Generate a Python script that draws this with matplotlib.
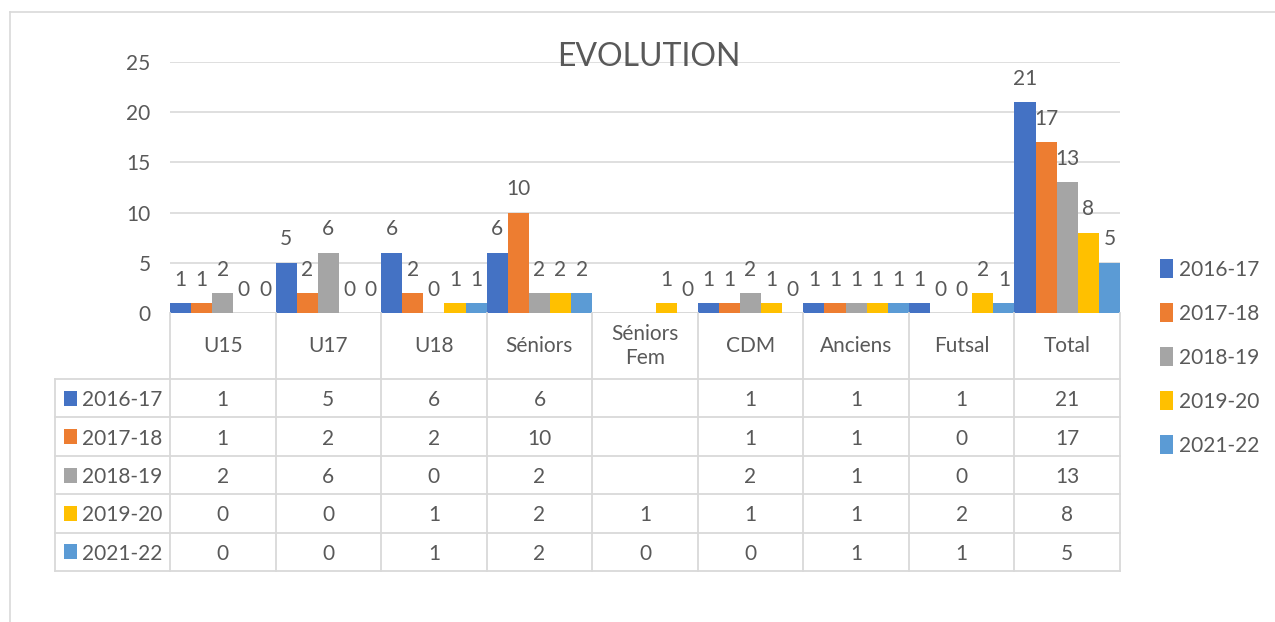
import numpy as np
import matplotlib
matplotlib.use("Agg")
import matplotlib.pyplot as plt
from matplotlib.patches import Rectangle
from matplotlib.lines import Line2D

plt.rcParams['font.family'] = ['Lato', 'DejaVu Sans']

# data
categories = ['U15', 'U17', 'U18', 'Séniors', 'Séniors\nFem', 'CDM', 'Anciens', 'Futsal', 'Total']
seasons = ['2016-17', '2017-18', '2018-19', '2019-20', '2021-22']
v_2016 = [1, 5, 6, 6, None, 1, 1, 1, 21]
v_2017 = [1, 2, 2, 10, None, 1, 1, 0, 17]
v_2018 = [2, 6, 0, 2, None, 2, 1, 0, 13]
v_2019 = [0, 0, 1, 2, 1, 1, 1, 2, 8]
v_2021 = [0, 0, 1, 2, 0, 0, 1, 1, 5]
series = [v_2016, v_2017, v_2018, v_2019, v_2021]
colors = ['#4472C4', '#ED7D31', '#A5A5A5', '#FFC000', '#5B9BD5']

TXT = '#595959'
GRID = '#D9D9D9'
FS = 15
W, H = 1275, 622

fig = plt.figure(figsize=(W / 100, H / 100), dpi=100)

def fx(px):
    return px / W

def fy(py):
    return 1 - py / H

# outer chart border (only top and left visible)
fig.add_artist(Line2D([fx(10), 1], [fy(12), fy(12)], color=GRID, lw=1.2))
fig.add_artist(Line2D([fx(10), fx(10)], [fy(12), 0], color=GRID, lw=1.2))

# plot area
x0, x1, ytop, ybot = 170, 1120, 62, 313
ax = fig.add_axes([fx(x0), fy(ybot), fx(x1 - x0), (ybot - ytop) / H])
n = len(categories)
bw = 0.2
for k, (vals, c) in enumerate(zip(series, colors)):
    xs = np.arange(n) + (k + 0.5) * bw
    hs = [np.nan if v is None else v for v in vals]
    ax.bar(xs, hs, width=bw, color=c, linewidth=0, zorder=3)
    for x, v in zip(xs, vals):
        if v is None:
            continue
        ax.annotate(str(v), (x, v), xytext=(0, 12.5), textcoords='offset points',
                    ha='center', va='baseline', fontsize=FS, color=TXT, zorder=4)

ax.set_xlim(0, n)
ax.set_ylim(0, 25)
ax.set_yticks(range(0, 26, 5))
ax.set_xticks([])
ax.yaxis.grid(True, color=GRID, lw=1.2, zorder=0)
ax.tick_params(axis='y', length=0, pad=14, labelsize=FS, labelcolor=TXT)
for s in ax.spines.values():
    s.set_visible(False)
ax.axhline(0, color=GRID, lw=2, zorder=2)

# title (drawn over the top gridline)
fig.text(fx(649), fy(57), 'EVOLUTION', ha='center', va='center', fontsize=23, color=TXT)

# data table below the plot
tl, tb = 55, 571
lab_w = (x0 - tl) / ((x1 - x0) / n)
tax = fig.add_axes([fx(tl), fy(tb), fx(x1 - tl), (tb - ybot) / H])
tax.set_xlim(-lab_w, n)
tax.set_ylim(tb - ybot, 0)
tax.axis('off')

row_edges = [0, 66, 104.4, 142.8, 181.2, 219.6, 258]
lw_t = 1.3
# horizontal lines
for y in row_edges[1:]:
    tax.plot([-lab_w, n], [y, y], color=GRID, lw=lw_t, clip_on=False)
# vertical lines
for i in range(n + 1):
    tax.plot([i, i], [0, row_edges[-1]], color=GRID, lw=lw_t, clip_on=False)
tax.plot([-lab_w, -lab_w], [row_edges[1], row_edges[-1]], color=GRID, lw=lw_t, clip_on=False)

# header
for i, cat in enumerate(categories):
    tax.text(i + 0.5, row_edges[1] / 2, cat, ha='center', va='center',
             fontsize=FS, color=TXT, linespacing=1.3)

# rows
px_unit = (x1 - x0) / n
for r, (name, vals, c) in enumerate(zip(seasons, series, colors)):
    yc = (row_edges[r + 1] + row_edges[r + 2]) / 2
    tax.add_patch(Rectangle((-lab_w + 9 / px_unit, yc - 7.5), 13 / px_unit, 15,
                            color=c, lw=0, clip_on=False))
    tax.text(-lab_w + 27 / px_unit, yc, name, ha='left', va='center_baseline',
             fontsize=FS, color=TXT)
    for i, v in enumerate(vals):
        if v is None:
            continue
        tax.text(i + 0.5, yc, str(v), ha='center', va='center_baseline',
                 fontsize=FS, color=TXT)

# legend on the right
handles = [Rectangle((0, 0), 1, 1, color=c, lw=0) for c in colors]
fig.legend(handles, seasons, loc='upper left', bbox_to_anchor=(fx(1152), fy(251)),
           frameon=False, fontsize=FS, labelcolor=TXT, handlelength=0.62,
           handleheight=1.0, handletextpad=0.3, labelspacing=1.13, borderaxespad=0)

fig.savefig('out.png', dpi=100)
